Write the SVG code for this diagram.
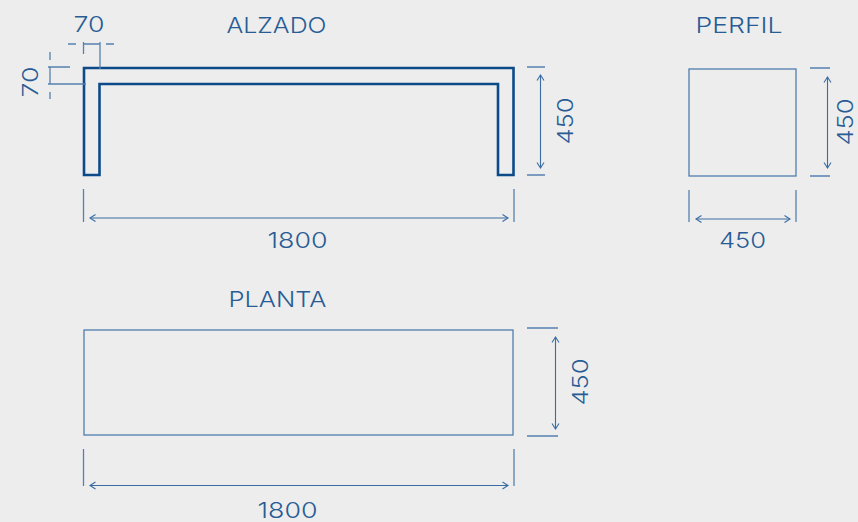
<svg xmlns="http://www.w3.org/2000/svg" width="858" height="522" viewBox="0 0 858 522">
<style>
text{font-family:"Inter","Liberation Sans",sans-serif;font-weight:300;font-size:22px;fill:#285c95;text-anchor:middle}
.d{fill:none;stroke:#3a6da4;stroke-width:1.1}
.t{fill:none;stroke:#5581ae;stroke-width:1.3}
.a{marker-start:url(#h);marker-end:url(#h)}
.p{fill:none;stroke:#4f7dad;stroke-width:1.3}
.m{fill:none;stroke:#0d4a8a;stroke-width:2.6}
</style>
<defs><marker id="h" markerWidth="10" markerHeight="10" refX="0" refY="4" orient="auto-start-reverse" markerUnits="userSpaceOnUse" viewBox="-7 0 10 8"><path d="M-5.500 0.500L0 4L-5.500 7.500" fill="none" stroke="#3a6da4" stroke-width="1.100"/></marker></defs>
<rect width="858" height="522" fill="#ededed"/>
<g id="alzado">
<path class="m" d="M84 175V68H513.500V175H498V84H99.500V175Z"/>
<text x="276.500" y="33" textLength="100" lengthAdjust="spacingAndGlyphs">ALZADO</text>
</g>
<g id="perfil">
<rect class="p" x="689" y="69" width="107" height="107"/>
<text x="739" y="33" textLength="87" lengthAdjust="spacingAndGlyphs">PERFIL</text>
</g>
<g id="planta">
<rect class="p" x="84" y="330" width="429" height="105"/>
<text x="277.500" y="307" textLength="98" lengthAdjust="spacingAndGlyphs">PLANTA</text>
</g>
<g id="connectors">
<path class="t" d="M68 44H76M83 44H100M106 44H114M100 42V69M83.500 42V54M48 67H70M50 52V60M50 67V84M50 92V99M48 84H86"/>
<path class="t" d="M527 67H545M527 175H545M83.500 189V222M514 189V222M810 68H830M810 176H830M689 190V222M796 190V222M527 328H558M527 436H558M83.500 449V486M514 449V486"/>
<path class="d a" d="M540.500 75V168"/>
<path class="d a" d="M90 218H508"/>
<path class="d a" d="M827.500 77V168"/>
<path class="d a" d="M696 219H790"/>
<path class="d a" d="M555.500 337V429"/>
<path class="d a" d="M90 485.500H508"/>
<text x="89" y="32" textLength="31" lengthAdjust="spacingAndGlyphs">70</text>
<text x="297.500" y="248" textLength="60" lengthAdjust="spacingAndGlyphs">1800</text>
<text x="742.500" y="248" textLength="47" lengthAdjust="spacingAndGlyphs">450</text>
<text x="287.500" y="518" textLength="60" lengthAdjust="spacingAndGlyphs">1800</text>
<text transform="translate(38 82) rotate(-90)" textLength="31" lengthAdjust="spacingAndGlyphs">70</text>
<text transform="translate(573 121) rotate(-90)" textLength="47" lengthAdjust="spacingAndGlyphs">450</text>
<text transform="translate(853 122) rotate(-90)" textLength="47" lengthAdjust="spacingAndGlyphs">450</text>
<text transform="translate(588 382) rotate(-90)" textLength="47" lengthAdjust="spacingAndGlyphs">450</text>
</g>
</svg>
